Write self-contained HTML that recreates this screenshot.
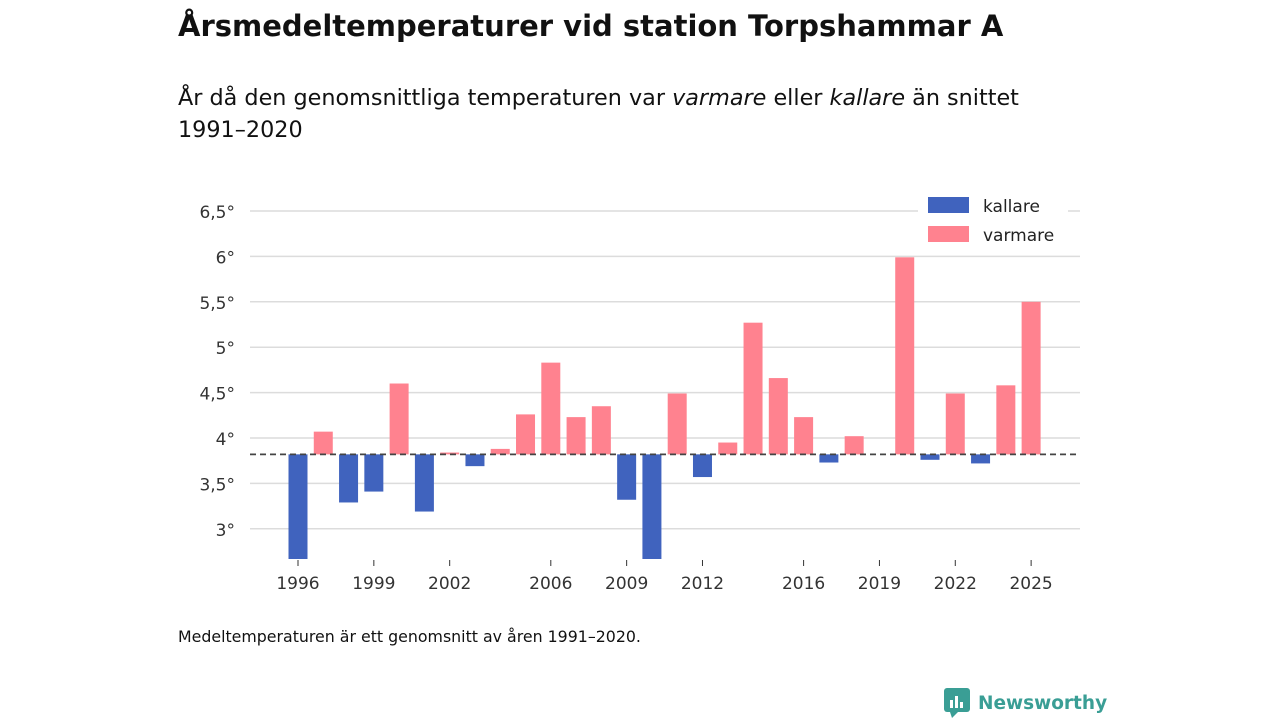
<!DOCTYPE html>
<html><head><meta charset="utf-8"><style>
body{margin:0;width:1280px;height:720px;background:#fff;font-family:"DejaVu Sans","Liberation Sans",sans-serif;color:#111;position:relative;overflow:hidden}
.t{position:absolute;left:178px;top:9px;font-size:29px;font-weight:bold}
.s{position:absolute;left:178px;top:82px;font-size:22.3px;line-height:32px}
.f{position:absolute;left:178px;top:627px;font-size:15.8px}
.logo{position:absolute;left:944px;top:688px;font-size:18.5px;font-weight:bold;color:#3a9e95;display:flex;align-items:center;gap:8px}
</style></head><body>
<div class="t">Årsmedeltemperaturer vid station Torpshammar A</div>
<div class="s">År då den genomsnittliga temperaturen var <i>varmare</i> eller <i>kallare</i> än snittet<br>1991–2020</div>
<svg id="c" width="1280" height="720" style="position:absolute;left:0;top:0"></svg>
<div class="f">Medeltemperaturen är ett genomsnitt av åren 1991–2020.</div>
<div class="logo"><svg width="26" height="30"><rect x="0" y="0" width="26" height="24" rx="3" fill="#3a9e95"/><polygon points="6,24 14,24 8,30" fill="#3a9e95"/><rect x="6" y="12" width="3" height="8" fill="#fff"/><rect x="11" y="8" width="3" height="12" fill="#fff"/><rect x="16" y="14" width="3" height="6" fill="#fff"/></svg>Newsworthy</div>
<script>
const years=[1996,1997,1998,1999,2000,2001,2002,2003,2004,2005,2006,2007,2008,2009,2010,2011,2012,2013,2014,2015,2016,2017,2018,2019,2020,2021,2022,2023,2024,2025];
const temps=[2.5,4.07,3.29,3.41,4.60,3.19,3.84,3.69,3.88,4.26,4.83,4.23,4.35,3.32,2.5,4.49,3.57,3.95,5.27,4.66,4.23,3.73,4.02,3.82,5.99,3.76,4.49,3.72,4.58,5.5];
const baseline=3.82;
const yTicks=[3,3.5,4,4.5,5,5.5,6,6.5];
const yTickLabels=["3°","3,5°","4°","4,5°","5°","5,5°","6°","6,5°"];
const xTicks=[1996,1999,2002,2006,2009,2012,2016,2019,2022,2025];
const NS="http://www.w3.org/2000/svg",svg=document.getElementById('c');
const y=v=>438-(v-4)*90.8, x=yr=>298+(yr-1996)*25.28;
const yBot=559;
function mk(t,a,p){const e=document.createElementNS(NS,t);for(const k in a)e.setAttribute(k,a[k]);(p||svg).appendChild(e);return e;}
yTicks.forEach((v,i)=>{
 const l=mk('line',{x1:250,x2:1080,y1:y(v),y2:y(v),stroke:'#dcdcdc','stroke-width':1.5});
 
 
 const t=mk('text',{x:235,y:y(v)+7,'text-anchor':'end','font-size':17,fill:'#333'});t.textContent=yTickLabels[i];
 
 
});
years.forEach((yr,i)=>{
 const v=temps[i],top=Math.max(Math.min(y(v),y(baseline)),0),bot=Math.min(Math.max(y(v),y(baseline)),yBot);
 const r=mk('rect',{x:x(yr)-9.5,y:top,width:19,height:Math.max(bot-top,0),fill:v<baseline?'#4063be':'#ff828f'});
 
 
});
const bl=mk('line',{x1:250,x2:1076,y1:y(baseline),y2:y(baseline),stroke:'#444','stroke-width':1.8,'stroke-dasharray':'6,4'});


xTicks.forEach(yr=>{
 mk('line',{x1:x(yr),x2:x(yr),y1:560,y2:566,stroke:'#333','stroke-width':1});
 const t=mk('text',{x:x(yr),y:589,'text-anchor':'middle','font-size':17,fill:'#333'});t.textContent=yr;
 
 
});
const lg=mk('g',{});


mk('rect',{x:918,y:190,width:150,height:60,fill:'#fff'},lg);
[['kallare','#4063be',197],['varmare','#ff828f',226]].forEach(([n,c,yy])=>{
 const r=mk('rect',{x:928,y:yy,width:41,height:16,fill:c},lg);
 
 
 const t=mk('text',{x:983,y:yy+15,'font-size':17,fill:'#222'},lg);t.textContent=n;
 
 
});
</script>
</body></html>
